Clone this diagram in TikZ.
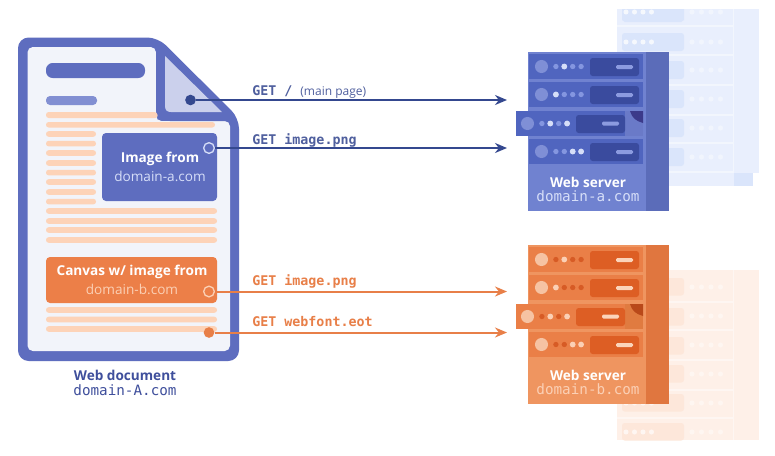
\documentclass[tikz,border=0pt]{standalone}
\usepackage{fontspec}
\setmainfont{Open Sans}
\setmonofont{DejaVu Sans Mono}
\usetikzlibrary{arrows.meta}
\definecolor{docblue}{HTML}{5E6DBF}
\definecolor{paper}{HTML}{F2F4FA}
\definecolor{foldfill}{HTML}{CBD0EC}
\definecolor{subbar}{HTML}{828FD2}
\definecolor{stripe}{HTML}{FDD3B8}
\definecolor{linkblue}{HTML}{34488F}
\definecolor{getblue}{HTML}{4F5F9E}
\definecolor{linkorange}{HTML}{E87F48}
\definecolor{boxorange}{HTML}{EC7F48}
\definecolor{ghostAbody}{HTML}{E9EFFD}
\definecolor{ghostAbox}{HTML}{DAE5FB}
\definecolor{ghostBbody}{HTML}{FEF0E8}
\definecolor{ghostBbox}{HTML}{FDE7DA}
\definecolor{titleblue}{HTML}{3F4F9C}
\definecolor{AAbody}{HTML}{7082D0}\definecolor{AAside}{HTML}{5B6CB9}\definecolor{AArow}{HTML}{5065BF}
\definecolor{AAbox}{HTML}{3A4B9E}\definecolor{AAdash}{HTML}{8C9BE0}\definecolor{AAcirc}{HTML}{7F8FD6}
\definecolor{AAdim}{HTML}{8496E0}\definecolor{AAlit}{HTML}{D6DEF8}\definecolor{AAear}{HTML}{3B3A8A}\definecolor{AAflap}{HTML}{6A7AC8}
\definecolor{BBbody}{HTML}{EF9560}\definecolor{BBside}{HTML}{E0763F}\definecolor{BBrow}{HTML}{EA7F47}
\definecolor{BBbox}{HTML}{DD5E24}\definecolor{BBdash}{HTML}{FBD4BA}\definecolor{BBcirc}{HTML}{F6C3A3}
\definecolor{BBdim}{HTML}{D75B25}\definecolor{BBlit}{HTML}{FBD0B5}\definecolor{BBear}{HTML}{B9491A}\definecolor{BBflap}{HTML}{E07B40}
\tikzset{
  x=0.75pt,y=-0.75pt,
  stripebar/.style={fill=stripe,rounded corners=2pt},
  sanslabel/.style={font=\fontsize{10.2pt}{12pt}\selectfont,inner sep=0pt},
  boldlabel/.style={font=\fontsize{10.2pt}{12pt}\selectfont\bfseries,inner sep=0pt},
  monolabel/.style={font=\fontsize{10.7pt}{12pt}\selectfont\ttfamily,inner sep=0pt},
  getlabel/.style={font=\fontsize{10pt}{12pt}\selectfont\ttfamily\bfseries,inner sep=0pt,anchor=west},
  dotnode/.style={circle,inner sep=0pt,minimum size=8pt},
  ringnode/.style={circle,inner sep=0pt,minimum size=8pt,line width=1pt},
  link/.style={line width=1.5pt,-{Stealth[length=9pt,width=7.5pt]}},
}
% one row of a server: #1 scheme, #2 x offset, #3 top y, #4 lit dot numbers
\newcommand{\srvrow}[4]{%
  \fill[#1row] (529+#2,#3) rectangle (643,#3+25);
  \fill[#1circ] (541.5+#2,#3+12.5) circle [radius=4.9pt];
  \foreach \k in {1,2,3,4}{\fill[#1dim] (547.5+8.4*\k+#2,#3+12.5) circle [radius=2pt];}
  \foreach \k in {#4}{\fill[#1lit] (547.5+8.4*\k+#2,#3+12.5) circle [radius=2.2pt];}
  \fill[#1box,rounded corners=2pt] (590+#2,#3+4) rectangle (639+#2,#3+22);
  \fill[#1dash,rounded corners=1pt] (616+#2,#3+11) rectangle (633+#2,#3+15);
}
% one complete server: #1 scheme, #2 y offset
\newcommand{\srvbody}[2]{%
  \begin{scope}[yshift=-0.75pt*#2]
  \fill[#1body] (528,52) rectangle (669,211);
  \fill[#1side] (646,52) rectangle (669,211);
  \srvrow{#1}{0}{54}{2}
  \srvrow{#1}{0}{82}{1}
  \srvrow{#1}{0}{139}{3,4}
  \fill[#1row] (516,111) rectangle (643,136);
  \fill[#1flap] (625,111) rectangle (643,136);
  \fill[#1ear] (630,111) -- (643,111) -- (643,123) .. controls (636,121) and (632,118) .. cycle;
  \fill[#1circ] (527.5,123.5) circle [radius=4.9pt];
  \foreach \k in {1,2,3,4}{\fill[#1dim] (533.5+8.4*\k,123.5) circle [radius=2pt];}
  \foreach \k in {2,4}{\fill[#1lit] (533.5+8.4*\k,123.5) circle [radius=2.2pt];}
  \fill[#1box,rounded corners=2pt] (576,115) rectangle (625,133);
  \fill[#1dash,rounded corners=1pt] (602,121.5) rectangle (619,125.5);
  \end{scope}
}
\begin{document}
\begin{tikzpicture}
\useasboundingbox (0,0) rectangle (775,455);
\fill[white] (0,0) rectangle (775,455);
% ghost server A
\fill[ghostAbody] (617,9) rectangle (759,173);
\fill[ghostAbody] (617,173) rectangle (753,186);
\fill[ghostAbox] (734,173) rectangle (753,186);
\foreach \y in {26,55,85,115,143,172}{\fill[white,opacity=.45] (617,\y-.8) rectangle (733,\y+.8);}
\fill[white,opacity=.45] (732.5,9) rectangle (733.5,173);
\fill[ghostAbox] (622,9) -- (684,9) -- (684,20) -- (681,22) -- (625,22) -- (622,20) -- cycle;
\foreach \b in {33,61,90,119,148}{\fill[ghostAbox,rounded corners=2pt] (622,\b) rectangle (684,\b+18);}
\foreach \y in {12,42,70,99,128,157}{\foreach \k in {0,1,2,3}{
  \fill[white,opacity=.75] (626+8.5*\k,\y) circle [radius=1.9pt];
  \fill[white,opacity=.4] (692+9.5*\k,\y) circle [radius=1.9pt];}}
% ghost server B
\fill[ghostBbody] (617,270) rectangle (759,440);
\foreach \y in {302,330,360,390,418}{\fill[white,opacity=.45] (617,\y-.8) rectangle (733,\y+.8);}
\fill[white,opacity=.45] (732.5,270) rectangle (733.5,440);
\foreach \b in {278,308,337,365,394,423}{\fill[ghostBbox,rounded corners=2pt] (622,\b) rectangle (684,\b+17.5);}
\foreach \y in {287,316,345,374,403,432}{\foreach \k in {0,1,2,3}{
  \fill[white,opacity=.65] (626+8.5*\k,\y) circle [radius=1.9pt];
  \fill[white,opacity=.4] (692+9.5*\k,\y) circle [radius=1.9pt];}}
% servers
\srvbody{AA}{0}
\srvbody{BB}{193}
\node[boldlabel,white] (srvAname) at (588,182) {Web server};
\node[monolabel,AAlit] (srvAdom) at (588,196) {domain-a.com};
\node[boldlabel,white] (srvBname) at (588,375) {Web server};
\node[monolabel,BBlit] (srvBdom) at (588,389.5) {domain-b.com};
% document
\fill[docblue,rounded corners=8pt] (18,37.5) -- (158,37.5) -- (239,118) -- (239,361) -- (18,361) -- cycle;
\fill[paper,rounded corners=4pt] (27.5,47) -- (156,47) -- (156,121) -- (230,121) -- (230,351) -- (27.5,351) -- cycle;
\fill[docblue] (156,47) -- (230,121) -- (170,121) .. controls (161,121) and (156,116) .. (156,108) -- cycle;
\fill[foldfill] (165,56) -- (222,112) -- (171,112) .. controls (167,112) and (165,110) .. (165,106) -- cycle;
\fill[docblue,rounded corners=5pt] (46,63) rectangle (145,78);
\fill[subbar,rounded corners=3pt] (46,96) rectangle (97,105);
\fill[stripebar] (46,112) -- (157,112) -- (158,118) -- (46,118) -- cycle;
\fill[stripebar] (46,122) rectangle (215,127.5);
\foreach \y in {134,143.6,153,163,172.6,182,192,201.6}{\fill[stripebar] (46,\y-2.8) rectangle (96,\y+2.8);}
\foreach \y in {211,221,230,240,310,319.5,329}{\fill[stripebar] (46,\y-2.8) rectangle (217,\y+2.8);}
\fill[docblue,rounded corners=3pt] (102,133) rectangle (217,201);
\fill[boxorange,rounded corners=3pt] (46,257) rectangle (217,303);
\node[boldlabel,white] (imgA) at (160,159) {Image from};
\node[sanslabel,AAlit] (imgAdom) at (160,176) {domain-a.com};
\node[boldlabel,white] (canv) at (132,272) {Canvas w/ image from};
\node[sanslabel,BBlit] (canvdom) at (132,289) {domain-b.com};
\node[boldlabel,titleblue] (docname) at (125,375) {Web document};
\node[monolabel,titleblue] (docdom) at (125,390) {domain-A.com};
% connectors
\coordinate (tgtA) at (507,100);
\coordinate (tgtB) at (507,148);
\coordinate (tgtC) at (507,291.5);
\coordinate (tgtD) at (507,332.5);
\node[dotnode,fill=linkblue] (pageDot) at (190.5,100) {};
\node[ringnode,draw=AAlit,fill=docblue] (imgDot) at (209,148) {};
\node[ringnode,draw=BBlit,fill=boxorange] (canvDot) at (209,291.5) {};
\node[dotnode,fill=linkorange] (fontDot) at (209,332.5) {};
\draw[link,linkblue] (pageDot) -- (tgtA);
\draw[link,linkblue] (imgDot) -- (tgtB);
\draw[link,linkorange] (canvDot) -- (tgtC);
\draw[link,linkorange] (fontDot) -- (tgtD);
\node[getlabel,getblue] (getA) at (252,92) {GET /\hspace{6pt}{\rmfamily\mdseries\fontsize{9pt}{10pt}\selectfont (main page)}};
\node[getlabel,getblue] (getB) at (252,140) {GET image.png};
\node[getlabel,linkorange] (getC) at (252,281) {GET image.png};
\node[getlabel,linkorange] (getD) at (252,322) {GET webfont.eot};
\end{tikzpicture}
\end{document}
